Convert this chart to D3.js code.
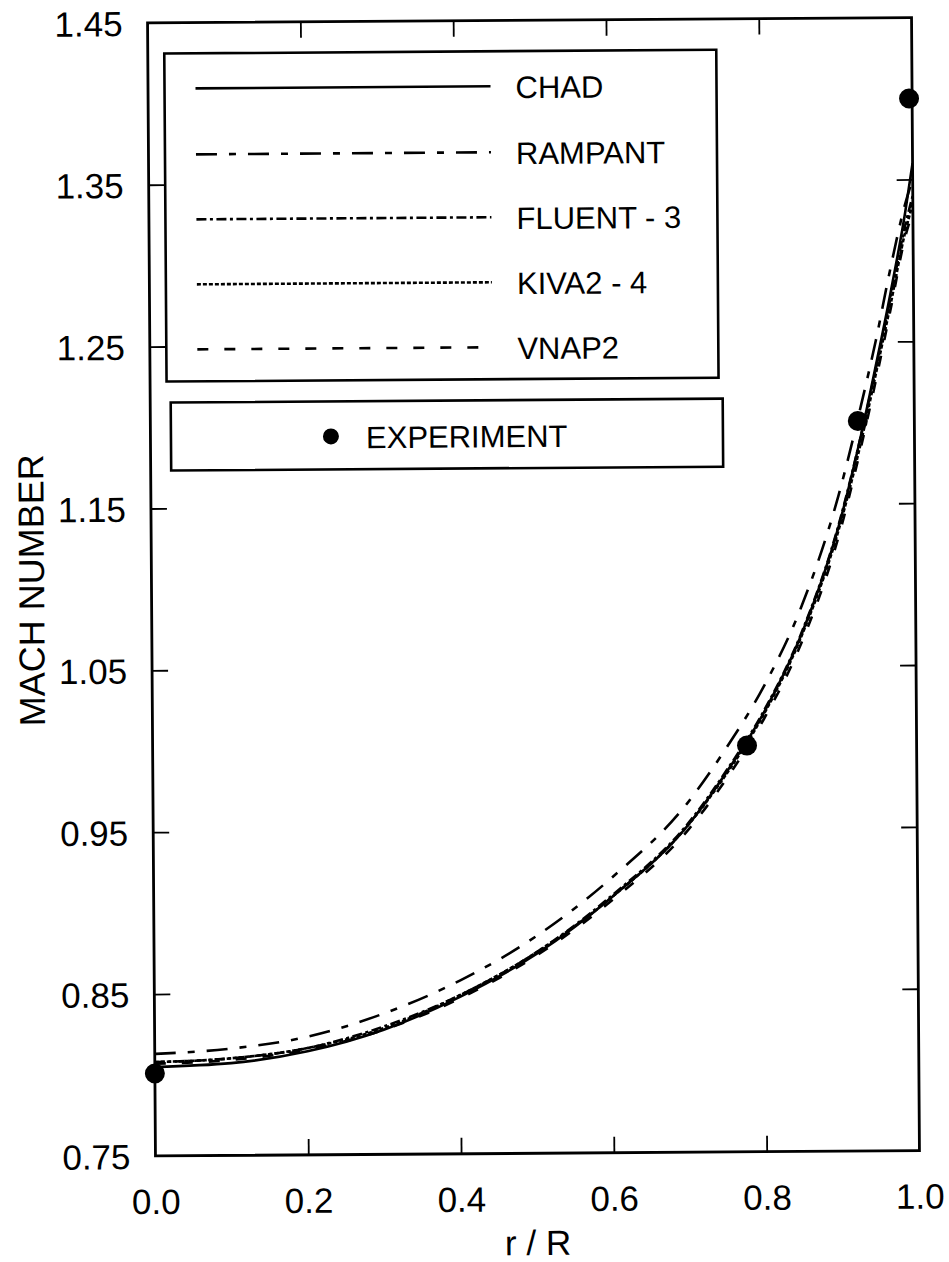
<!DOCTYPE html>
<html><head><meta charset="utf-8">
<script src="https://cdn.jsdelivr.net/npm/d3@7"></script>
<style>html,body{margin:0;padding:0;background:#fff;}svg{display:block;}</style>
</head><body>
<svg id="chart" width="949" height="1262"></svg>
<script>
// ---- data ----
const rValues = [0, 0.1, 0.2, 0.3, 0.4, 0.5, 0.6, 0.7, 0.75, 0.8, 0.85, 0.9, 0.93, 0.95, 0.97, 0.99, 1.0];
const chad    = [0.805, 0.807, 0.814, 0.827, 0.847, 0.873, 0.908, 0.952, 0.984, 1.021, 1.069, 1.136, 1.192, 1.235, 1.280, 1.330, 1.360];
const rampant = [0.813, 0.816, 0.823, 0.837, 0.857, 0.884, 0.920, 0.966, 0.999, 1.037, 1.086, 1.155, 1.210, 1.250, 1.295, 1.335, 1.350];
const fluent3 = [0.808, 0.810, 0.816, 0.829, 0.848, 0.874, 0.909, 0.953, 0.985, 1.022, 1.070, 1.137, 1.192, 1.233, 1.277, 1.322, 1.340];
const kiva24  = [0.808, 0.810, 0.816, 0.828, 0.848, 0.874, 0.908, 0.952, 0.983, 1.020, 1.068, 1.134, 1.188, 1.230, 1.273, 1.318, 1.335];
const vnap2   = [0.807, 0.809, 0.815, 0.827, 0.846, 0.872, 0.906, 0.949, 0.980, 1.017, 1.064, 1.130, 1.185, 1.226, 1.270, 1.315, 1.330];
const expR = [0.0, 0.778, 0.926, 0.996];
const expM = [0.801, 1.001, 1.201, 1.400];
const seriesNames = ["CHAD", "RAMPANT", "FLUENT - 3", "KIVA2 - 4", "VNAP2"];
const xTickValues = [0.0, 0.2, 0.4, 0.6, 0.8, 1.0];
const xTickLabels = ["0.0", "0.2", "0.4", "0.6", "0.8", "1.0"];
const yTickValues = [0.75, 0.85, 0.95, 1.05, 1.15, 1.25, 1.35, 1.45];
const yTickLabels = ["0.75", "0.85", "0.95", "1.05", "1.15", "1.25", "1.35", "1.45"];
const xTitle = "r / R";
const yTitle = "MACH NUMBER";
const expName = "EXPERIMENT";

// ---- layout ----
const L = 151.5, R = 915.5, T = 20.2, B = 1153.3;
const cx = (L + R) / 2, cy = (T + B) / 2;
const font = "'Liberation Sans', Arial, Helvetica, sans-serif";
const dashes = ["", "21,12,7,12", "10,3.5,3,3.5", "4,2", "11,16"];
const seriesData = [chad, rampant, fluent3, kiva24, vnap2];

const x = d3.scaleLinear().domain([0, 1]).range([L, R]);
const y = d3.scaleLinear().domain([0.75, 1.45]).range([B, T]);

const svg = d3.select("#chart");
const g = svg.append("g").attr("transform", `rotate(-0.4, ${cx}, ${cy})`);

g.append("defs").append("clipPath").attr("id", "clip")
  .append("rect").attr("x", L).attr("y", T).attr("width", R - L).attr("height", B - T);

// curves
const line = d3.line().x(d => x(d[0])).y(d => y(d[1])).curve(d3.curveMonotoneX);
const curves = g.append("g").attr("clip-path", "url(#clip)");
seriesData.forEach((vals, i) => {
  curves.append("path")
    .datum(rValues.map((r, k) => [r, vals[k]]))
    .attr("d", line)
    .attr("fill", "none")
    .attr("stroke", "#000")
    .attr("stroke-width", 2.6)
    .attr("stroke-dasharray", dashes[i] || null);
});

// frame
g.append("rect").attr("x", L).attr("y", T).attr("width", R - L).attr("height", B - T)
  .attr("fill", "none").attr("stroke", "#000").attr("stroke-width", 2.8);

// axes (ticks inward) via d3 axes
const tickLen = 16;
const axB = d3.axisBottom(x).tickValues(xTickValues).tickSize(tickLen).tickFormat((d, i) => xTickLabels[i]);
const gB = g.append("g").attr("transform", `translate(0,${B})`).call(axB);
gB.select(".domain").remove();
gB.selectAll(".tick line").attr("y2", -tickLen).attr("stroke-width", 1.8)
  .filter(d => d === 0 || d === 1).remove();
gB.selectAll(".tick text").attr("y", 58).attr("dy", 0).attr("font-size", 35).attr("font-family", font).attr("fill", "#000");

const axT = d3.axisTop(x).tickValues(xTickValues.filter(v => v > 0 && v < 1)).tickSize(tickLen).tickFormat("");
const gT = g.append("g").attr("transform", `translate(0,${T})`).call(axT);
gT.select(".domain").remove();
gT.selectAll(".tick line").attr("y2", tickLen).attr("stroke-width", 1.8);

const axL = d3.axisLeft(y).tickValues(yTickValues).tickSize(tickLen).tickFormat((d, i) => yTickLabels[i]);
const gL = g.append("g").attr("transform", `translate(${L},0)`).call(axL);
gL.select(".domain").remove();
gL.selectAll(".tick line").attr("x2", tickLen).attr("stroke-width", 1.8)
  .filter(d => d === 0.75 || d === 1.45).remove();
gL.selectAll(".tick text").attr("x", -25).attr("dy", "0.36em").attr("font-size", 35).attr("font-family", font).attr("fill", "#000");

const axR = d3.axisRight(y).tickValues(yTickValues.filter(v => v > 0.76 && v < 1.44)).tickSize(tickLen).tickFormat("");
const gR = g.append("g").attr("transform", `translate(${R},0)`).call(axR);
gR.select(".domain").remove();
gR.selectAll(".tick line").attr("x2", -tickLen).attr("stroke-width", 1.8);

// axis titles
g.append("text").attr("x", cx).attr("y", 1255).attr("text-anchor", "middle")
  .attr("font-size", 35).attr("font-family", font).text(xTitle);
g.append("text").attr("transform", `translate(44,${cy}) rotate(-90)`).attr("text-anchor", "middle")
  .attr("font-size", 36).attr("font-family", font).text(yTitle);

// experiment points
g.append("g").selectAll("circle").data(expR.map((r, i) => [r, expM[i]])).join("circle")
  .attr("cx", d => x(d[0])).attr("cy", d => y(d[1])).attr("r", 10).attr("fill", "#000");

// legend 1
const lg = g.append("g");
lg.append("rect").attr("x", 168).attr("y", 51).attr("width", 552).attr("height", 328)
  .attr("fill", "#fff").attr("stroke", "#000").attr("stroke-width", 2.6);
const legY = [86, 152, 217, 282, 347];
seriesNames.forEach((name, i) => {
  lg.append("line").attr("x1", 199).attr("x2", 494).attr("y1", legY[i]).attr("y2", legY[i])
    .attr("stroke", "#000").attr("stroke-width", 2.6).attr("stroke-dasharray", dashes[i] || null);
  lg.append("text").attr("x", 519).attr("y", legY[i] + 12).attr("font-size", 31)
    .attr("font-family", font).text(name);
});
// legend 2
lg.append("rect").attr("x", 172).attr("y", 400).attr("width", 552).attr("height", 68)
  .attr("fill", "#fff").attr("stroke", "#000").attr("stroke-width", 2.6);
lg.append("circle").attr("cx", 332).attr("cy", 435).attr("r", 8).attr("fill", "#000");
lg.append("text").attr("x", 367).attr("y", 447).attr("font-size", 31).attr("font-family", font).text(expName);
</script>
</body></html>
